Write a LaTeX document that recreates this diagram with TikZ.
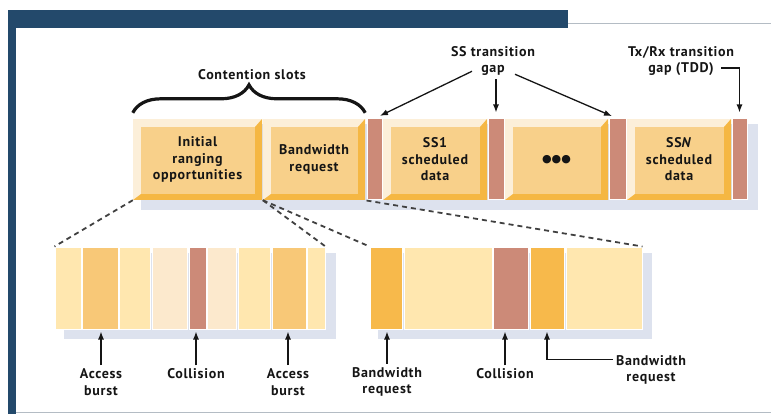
\documentclass[tikz,border=0pt]{standalone}
\usepackage{fontspec}
\setmainfont{PT Sans}[LetterSpace=5]
\newfontfamily\dotfont{DejaVu Sans}
\usetikzlibrary{arrows.meta,decorations.pathreplacing}
\definecolor{navy}{HTML}{23496B}
\definecolor{framegray}{HTML}{B4BCC4}
\definecolor{ink}{HTML}{151515}
\definecolor{tilecream}{HTML}{FCEFD9}
\definecolor{tileface}{HTML}{F8D08A}
\definecolor{tileorange}{HTML}{F5B743}
\definecolor{gapred}{HTML}{CC8A78}
\definecolor{shadowblue}{HTML}{DDE2EE}
\definecolor{slicelight}{HTML}{FFE7AF}
\definecolor{sliceorange}{HTML}{F8C877}
\definecolor{slicecream}{HTML}{FCE9CD}
\definecolor{slicebright}{HTML}{F7B94B}
\tikzset{
lbl/.style={font=\fontsize{14}{16.5}\selectfont\bfseries, align=center, text=ink},
tile/.style={minimum width=#1, minimum height=81pt, inner sep=0pt, fill=tilecream, lbl,
  path picture={
    \fill[tileorange] (path picture bounding box.north east) -- (path picture bounding box.south east)
      -- (path picture bounding box.south west) -- ([shift={(8pt,6pt)}]path picture bounding box.south west)
      -- ([shift={(-7pt,6pt)}]path picture bounding box.south east)
      -- ([shift={(-7pt,-8pt)}]path picture bounding box.north east) -- cycle;
    \fill[tileface] ([shift={(8pt,-8pt)}]path picture bounding box.north west)
      rectangle ([shift={(-7pt,6pt)}]path picture bounding box.south east);
  }},
gapbar/.style={minimum width=#1, minimum height=81pt, inner sep=0pt, fill=gapred, draw=white, line width=1pt},
slice/.style={minimum height=82pt, inner sep=0pt, draw=white, line width=1pt},
arr/.style={-{Latex[length=8pt,width=6pt]}, line width=1.3pt, ink},
zoomline/.style={dashed, dash pattern=on 5pt off 4pt, line width=1.8pt, black!75},
}
\begin{document}
\begin{tikzpicture}[x=1pt, y=-1pt]
\useasboundingbox (0,0) rectangle (771,414);
% frame
\fill[navy] (8,10) rectangle (568,28);
\fill[navy] (8,10) rectangle (16,414);
\draw[framegray, line width=1pt] (568,23.5) -- (771,23.5);
\draw[framegray, line width=1pt] (16,412.5) -- (771,412.5);
% shadows
\fill[shadowblue] (141,124) rectangle (758,210);
\fill[shadowblue] (64,253) rectangle (336,339);
\fill[shadowblue] (378,253) rectangle (652,339);
% frame row
\node[tile=129pt] (irng) at (197.5,159.5) {Initial\\ranging\\opportunities};
\node[tile=102pt] (bwreq) at (314,159.5) {Bandwidth\\request};
\node[gapbar=15pt] (g1) at (374.5,159.5) {};
\node[tile=104pt] (ss1) at (435,159.5) {SS1\\scheduled\\data};
\node[gapbar=16pt] (g2) at (496,159.5) {};
\node[tile=103pt] (more) at (556.5,159.5) {\dotfont\fontsize{11}{11}\selectfont ●●●};
\node[gapbar=17pt] (g3) at (617.5,159.5) {};
\node[tile=104pt] (ssn) at (679,159.5) {SS\textit{N}\\scheduled\\data};
\node[gapbar=15pt] (g4) at (739.5,159.5) {};
% top labels
\node[lbl] (cont) at (252,75) {Contention slots};
\node[lbl] (ssgap) at (493,61) {SS transition\\gap};
\node[lbl] (tdd) at (681,61) {Tx/Rx transition\\gap (TDD)};
\coordinate (tddend) at (721,68);
\draw[line width=3.2pt, ink, decorate, decoration={brace, amplitude=28pt}]
  ([yshift=6pt]irng.north west) -- ([yshift=6pt]bwreq.north east);
\draw[arr, shorten >=6pt] ([xshift=-21pt,yshift=8pt]ssgap.south) -- (g1.north);
\draw[arr, shorten >=6pt] (ssgap.south -| g2.north) -- (g2.north);
\draw[arr, shorten >=6pt] ([xshift=22pt,yshift=5pt]ssgap.south) -- (g3.north);
\draw[arr, shorten >=6pt] (tddend) -| (g4.north);
% contention slots, close up
\foreach \n/\l/\r/\c in {a1/55/81/slicelight, a2/82/118/sliceorange, a3/119/150/slicelight,
  a4/152/187/slicecream, a5/189/206/gapred, a6/207/236/slicecream, a7/238/270/slicelight,
  a8/272/306/sliceorange, a9/307/325/slicelight}
  \node[slice, fill=\c, minimum width={(\r-\l)*1pt}] (\n) at ({(\l+\r)/2},288) {};
% bandwidth request, close up
\foreach \n/\l/\r/\c in {b1/370/402/slicebright, b2/404/492/slicelight, b3/493/528/gapred,
  b4/530/564/slicebright, b5/566/642/slicelight}
  \node[slice, fill=\c, minimum width={(\r-\l)*1pt}] (\n) at ({(\l+\r)/2},288) {};
\draw[zoomline] (irng.south west) -- (a1.north west);
\draw[zoomline] (bwreq.south west) -- (a9.north east);
\draw[zoomline] (bwreq.south west) -- (b1.north west);
\draw[zoomline] (g1.south west) -- (b5.north east);
% bottom labels
\node[lbl] (acc1) at (101,382) {Access\\burst};
\node[lbl] (col1) at (196,374) {Collision};
\node[lbl] (acc2) at (288,382) {Access\\burst};
\node[lbl] (bw1) at (387,382) {Bandwidth\\request};
\node[lbl] (col2) at (505,374) {Collision};
\node[lbl] (bw2) at (651,370) {Bandwidth\\request};
\draw[arr, shorten >=2pt] (acc1.north) -- (acc1.north |- a2.south);
\draw[arr, shorten >=2pt] (col1.north) -- (col1.north |- a5.south);
\draw[arr, shorten >=2pt] (acc2.north) -- (acc2.north |- a8.south);
\draw[arr, shorten >=2pt] (bw1.north) -- (bw1.north |- b1.south);
\draw[arr, shorten >=2pt] (col2.north) -- (col2.north |- b3.south);
\draw[arr, shorten >=2pt] ([yshift=-8pt]bw2.north west) -| (b4.south);
\end{tikzpicture}
\end{document}
